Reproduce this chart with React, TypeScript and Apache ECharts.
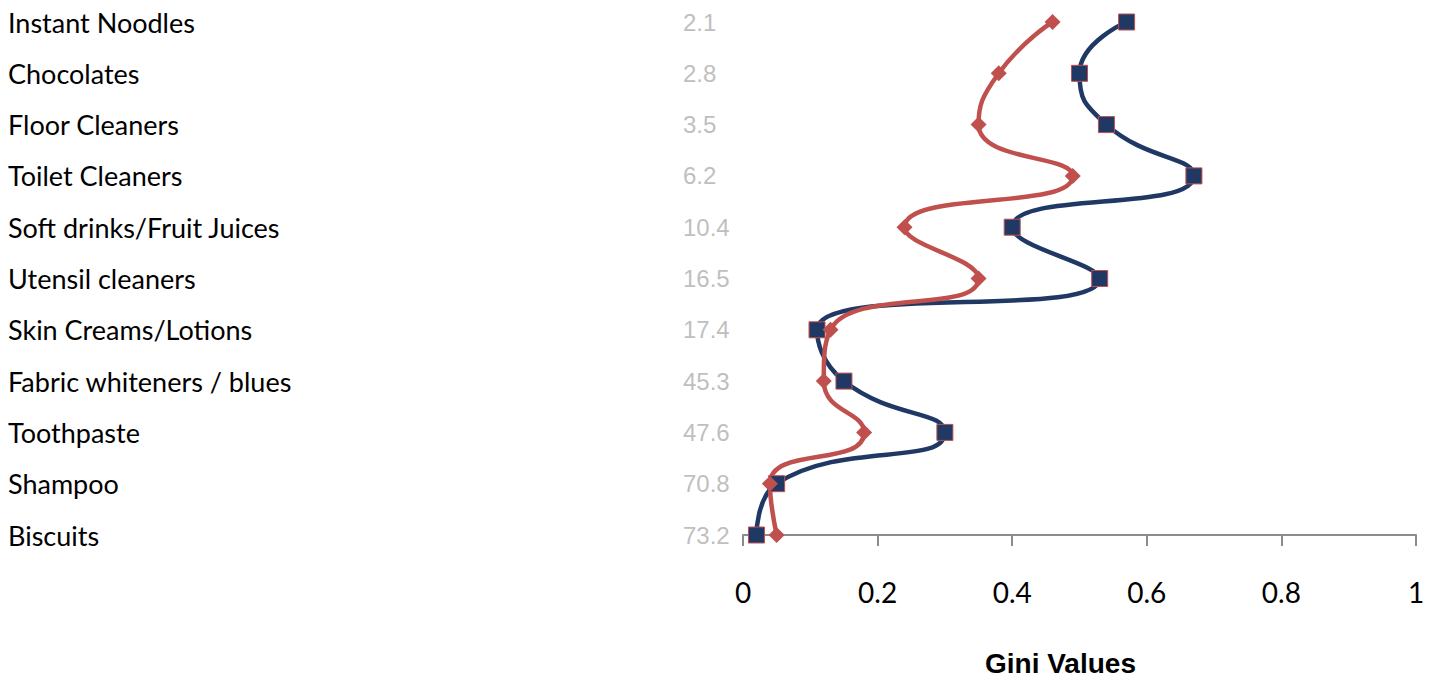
import React, { useEffect, useRef } from "react";
import * as echarts from "echarts";

const categories = [
  "Instant Noodles",
  "Chocolates",
  "Floor Cleaners",
  "Toilet Cleaners",
  "Soft drinks/Fruit Juices",
  "Utensil cleaners",
  "Skin Creams/Lotions",
  "Fabric whiteners / blues",
  "Toothpaste",
  "Shampoo",
  "Biscuits",
];
const categoryNumbers = ["2.1", "2.8", "3.5", "6.2", "10.4", "16.5", "17.4", "45.3", "47.6", "70.8", "73.2"];
const blueValues = [0.57, 0.5, 0.54, 0.67, 0.4, 0.53, 0.11, 0.15, 0.3, 0.05, 0.02];
const redValues = [0.46, 0.38, 0.35, 0.49, 0.24, 0.35, 0.13, 0.12, 0.18, 0.04, 0.05];
const xTicks = [0, 0.2, 0.4, 0.6, 0.8, 1];

export default function App() {
  const ref = useRef<HTMLDivElement>(null);
  useEffect(() => {
    if (!ref.current) return;
    const chart = echarts.init(ref.current, null, { renderer: "svg" });
    chart.setOption({
      animation: false,
      grid: { left: 743, right: 28, top: 22, bottom: 146, containLabel: false },
      xAxis: {
        type: "value",
        min: 0,
        max: 1,
        interval: 0.2,
        splitLine: { show: false },
        axisLine: { show: true, lineStyle: { color: "#8c8c8c", width: 2 } },
        axisTick: { show: true, length: 11, lineStyle: { color: "#8c8c8c", width: 2 } },
        axisLabel: {
          margin: 43,
          fontSize: 28,
          color: "#000",
          fontFamily: "Lato, 'Open Sans', sans-serif",
          formatter: (v: number) => (xTicks.includes(Math.round(v * 10) / 10) ? String(Math.round(v * 10) / 10) : ""),
        },
      },
      yAxis: [
        {
          type: "category",
          data: categories,
          inverse: true,
          boundaryGap: false,
          position: "left",
          axisLine: { show: false },
          axisTick: { show: false },
          splitLine: { show: false },
          axisLabel: {
            margin: 735,
            align: "left",
            fontSize: 27,
            color: "#000",
            fontFamily: "Lato, 'Open Sans', sans-serif",
            interval: 0,
          },
        },
        {
          type: "category",
          data: categoryNumbers,
          inverse: true,
          boundaryGap: false,
          position: "left",
          axisLine: { show: false },
          axisTick: { show: false },
          splitLine: { show: false },
          axisLabel: {
            margin: 60,
            align: "left",
            fontSize: 24,
            color: "#bfbfbf",
            fontFamily: "'Liberation Sans', Arial, sans-serif",
            interval: 0,
          },
        },
      ],
      graphic: [
        {
          type: "text",
          x: 985,
          y: 663,
          style: {
            text: "Gini Values",
            fontSize: 28,
            fontWeight: "bold",
            fill: "#000",
            fontFamily: "'Liberation Sans', Arial, sans-serif",
            textAlign: "left",
            textVerticalAlign: "middle",
          },
        },
      ],
      series: [
        {
          type: "line",
          yAxisIndex: 0,
          data: blueValues.map((v, i) => [v, categories[i]]),
          smooth: 0.55,
          symbol: "rect",
          symbolSize: 16,
          lineStyle: { color: "#1f3864", width: 4.5 },
          itemStyle: { color: "#1f3864", borderColor: "#c0504d", borderWidth: 1 },
        },
        {
          type: "line",
          yAxisIndex: 0,
          data: redValues.map((v, i) => [v, categories[i]]),
          smooth: 0.55,
          symbol: "diamond",
          symbolSize: 16,
          lineStyle: { color: "#c0504d", width: 4.5 },
          itemStyle: { color: "#c0504d", borderWidth: 0 },
        },
      ],
    });
    return () => chart.dispose();
  }, []);
  return <div ref={ref} style={{ width: 1444, height: 681, position: "absolute", left: 0, top: 0 }} />;
}
